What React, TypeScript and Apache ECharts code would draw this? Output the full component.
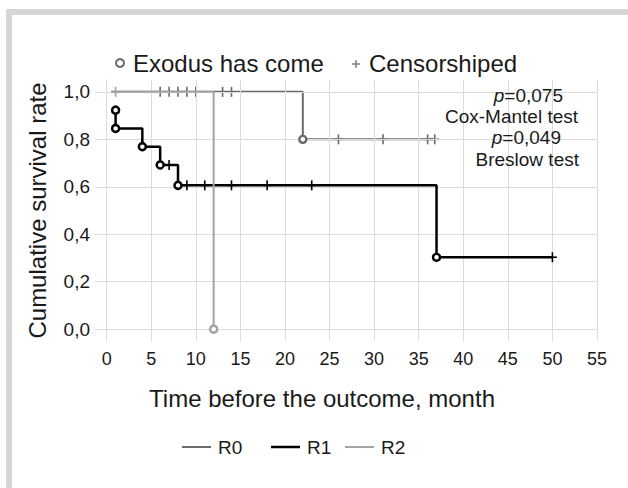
import React, { useEffect, useRef } from "react";
import * as echarts from "echarts";

const xTicks = [0, 5, 10, 15, 20, 25, 30, 35, 40, 45, 50, 55];
const yTicks = [0, 0.2, 0.4, 0.6, 0.8, 1.0];

const seriesNames = ["R0", "R1", "R2"];

const r0Curve = [[0.5, 1], [22, 0.8], [36.8, 0.8]];
const r0Events = [[22, 0.8]];
const r0Censored = [[6, 1], [7, 1], [8, 1], [9, 1], [10, 1], [13, 1], [14, 1], [26, 0.8], [31, 0.8], [36, 0.8], [36.8, 0.8]];

const r1Curve = [[1, 0.923], [1, 0.846], [4, 0.769], [6, 0.692], [8, 0.606], [37, 0.303], [50, 0.303]];
const r1Events = [[1, 0.923], [1, 0.846], [4, 0.769], [6, 0.692], [8, 0.606], [37, 0.303]];
const r1Censored = [[7, 0.692], [9, 0.606], [11, 0.606], [14, 0.606], [18, 0.606], [23, 0.606], [50, 0.303]];

const r2Curve = [[0.5, 1], [12, 0]];
const r2Events = [[12, 0]];
const r2Censored = [[1, 1]];

const pTexts = ["0,075", "0,049"];
const testNames = ["Cox-Mantel test", "Breslow test"];

const FONT = "'Liberation Sans', Arial, sans-serif";
const COLORS = ["#6a6a6a", "#000000", "#a3a3a3"];
const WIDTHS = [2, 2.5, 2];

function censorSeries(data: number[][], color: string, z: number) {
  return {
    type: "custom",
    z,
    data,
    silent: true,
    renderItem: (_p: any, api: any) => {
      const pt = api.coord([api.value(0), api.value(1)]);
      return {
        type: "group",
        children: [
          { type: "line", shape: { x1: pt[0], y1: pt[1] - 5, x2: pt[0], y2: pt[1] + 5 }, style: { stroke: color, lineWidth: 1.6 } },
          { type: "line", shape: { x1: pt[0] - 4.5, y1: pt[1], x2: pt[0] + 4.5, y2: pt[1] }, style: { stroke: color, lineWidth: 1.6 } },
        ],
      };
    },
  };
}

function curveSeries(name: string, data: number[][], color: string, width: number, z: number) {
  return {
    name,
    type: "line",
    step: "end",
    data,
    z,
    symbol: "none",
    lineStyle: { color, width },
    silent: true,
  };
}

function eventSeries(data: number[][], color: string, z: number) {
  return {
    type: "scatter",
    data,
    z,
    symbol: "circle",
    symbolSize: 7,
    itemStyle: { color: "#ffffff", borderColor: color, borderWidth: 2.5, opacity: 1 },
    silent: true,
  };
}

export default function App() {
  const ref = useRef<HTMLDivElement>(null);
  useEffect(() => {
    if (!ref.current) return;
    const chart = echarts.init(ref.current, null, { renderer: "svg" });
    const curves = [r0Curve, r1Curve, r2Curve];
    const events = [r0Events, r1Events, r2Events];
    const censors = [r0Censored, r1Censored, r2Censored];

    const series: any[] = [
      {
        type: "line",
        data: [],
        z: 1,
        silent: true,
        markLine: {
          silent: true,
          symbol: ["none", "none"],
          label: { show: false },
          lineStyle: { color: "#dcdcdc", width: 1, type: "solid" },
          data: [...xTicks.map((v) => ({ xAxis: v })), ...yTicks.map((v) => ({ yAxis: v }))],
        },
      },
    ];
    for (let i = 0; i < 3; i++) {
      series.push(curveSeries(seriesNames[i], curves[i], COLORS[i], WIDTHS[i], 3 + i * 3));
      series.push(censorSeries(censors[i], COLORS[i], 4 + i * 3));
      series.push(eventSeries(events[i], COLORS[i], 5 + i * 3));
    }

    const bigFont = 24;
    const legendY = 447;
    const legendItems = [
      { x: 182, color: COLORS[0], w: WIDTHS[0] },
      { x: 271, color: COLORS[1], w: WIDTHS[1] },
      { x: 345, color: COLORS[2], w: WIDTHS[2] },
    ];

    const graphic: any[] = [
      {
        type: "rect",
        shape: { x: 9, y: 12, width: 1000, height: 1000 },
        style: { fill: "none", stroke: "#d6d6d6", lineWidth: 6 },
        silent: true,
        z: 0,
      },
      {
        type: "circle",
        shape: { cx: 120, cy: 63, r: 4 },
        style: { fill: "#fff", stroke: "#6a6a6a", lineWidth: 2 },
      },
      {
        type: "text",
        x: 133,
        y: 63,
        style: { text: "Exodus has come", font: `${bigFont}px ${FONT}`, fill: "#1a1a1a", textVerticalAlign: "middle" },
      },
      {
        type: "line",
        shape: { x1: 352, y1: 64, x2: 360, y2: 64 },
        style: { stroke: "#6a6a6a", lineWidth: 1.3 },
      },
      {
        type: "line",
        shape: { x1: 356, y1: 60, x2: 356, y2: 68 },
        style: { stroke: "#6a6a6a", lineWidth: 1.3 },
      },
      {
        type: "text",
        x: 369,
        y: 63,
        style: { text: "Censorshiped", font: `${bigFont}px ${FONT}`, fill: "#1a1a1a", textVerticalAlign: "middle" },
      },
      {
        type: "text",
        x: 322,
        y: 398,
        style: {
          text: "Time before the outcome, month",
          font: `${bigFont}px ${FONT}`,
          fill: "#1a1a1a",
          textAlign: "center",
          textVerticalAlign: "middle",
        },
      },
    ];

    const annY = [95, 116, 137, 159];
    const annRight = [563, 578, 561, 579];
    const annTexts = [`{i|p}=${pTexts[0]}`, testNames[0], `{i|p}=${pTexts[1]}`, testNames[1]];
    annTexts.forEach((t, k) => {
      graphic.push({
        type: "text",
        x: annRight[k],
        y: annY[k],
        z: 50,
        style: {
          text: t,
          font: `19px ${FONT}`,
          fontSize: 19,
          fontFamily: FONT,
          fill: "#1a1a1a",
          textAlign: "right",
          textVerticalAlign: "middle",
          rich: { i: { fontStyle: "italic", fontSize: 19, fontFamily: FONT, fill: "#1a1a1a" } },
        },
      });
    });

    legendItems.forEach((it, k) => {
      graphic.push({
        type: "line",
        shape: { x1: it.x, y1: legendY, x2: it.x + 29, y2: legendY },
        style: { stroke: it.color, lineWidth: it.w },
      });
      graphic.push({
        type: "text",
        x: it.x + 36,
        y: legendY,
        style: { text: seriesNames[k], font: `19px ${FONT}`, fill: "#1a1a1a", textVerticalAlign: "middle" },
      });
    });

    chart.setOption({
      animation: false,
      backgroundColor: "#ffffff",
      grid: { left: 95, top: 80, width: 502, height: 261, containLabel: false },
      xAxis: {
        type: "value",
        min: -1.31,
        max: 55,
        axisLine: { show: true, lineStyle: { color: "#cfcfcf", width: 1 } },
        axisTick: { show: false },
        splitLine: { show: false },
        axisLabel: {
          customValues: xTicks,
          fontSize: 18,
          fontFamily: FONT,
          color: "#1a1a1a",
          margin: 9,
        },
      },
      yAxis: {
        type: "value",
        min: -0.05,
        max: 1.05,
        axisLine: { show: true, lineStyle: { color: "#cfcfcf", width: 1 } },
        axisTick: { show: false },
        splitLine: { show: false },
        axisLabel: {
          customValues: yTicks,
          formatter: (v: number) => v.toFixed(1).replace(".", ","),
          fontSize: 19,
          fontFamily: FONT,
          color: "#1a1a1a",
          margin: 5,
        },
        name: "Cumulative survival rate",
        nameLocation: "middle",
        nameGap: 46,
        nameTextStyle: { fontSize: bigFont, fontFamily: FONT, color: "#1a1a1a" },
      },
      graphic,
      series,
    });
    return () => chart.dispose();
  }, []);
  return (
    <div
      ref={ref}
      style={{ position: "absolute", left: 0, top: 0, width: 628, height: 488 }}
    />
  );
}
